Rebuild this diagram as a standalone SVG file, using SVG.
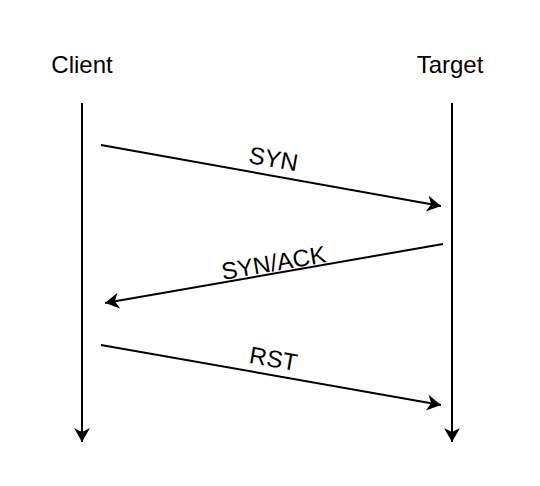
<svg xmlns="http://www.w3.org/2000/svg" width="540" height="486" viewBox="0 0 540 486">
<style>
.lbl{font-family:"Liberation Sans",Arial,sans-serif;font-size:24px;fill:#000;text-anchor:middle}
.ln{stroke:#000;stroke-width:2;fill:none}
</style>
<defs>
<marker id="arr" markerUnits="userSpaceOnUse" orient="auto" markerWidth="20" markerHeight="20" refX="16" refY="10" viewBox="0 0 20 20">
<path d="M16,10 L2,2 L6,10 L2,18 Z" fill="#000"/>
</marker>
</defs>
<rect width="540" height="486" fill="#fff"/>
<g id="client"><text class="lbl" x="82" y="73">Client</text></g>
<g id="target"><text class="lbl" x="450" y="73">Target</text></g>
<g id="connectors">
<line class="ln" x1="82" y1="103" x2="82" y2="442" marker-end="url(#arr)"/>
<line class="ln" x1="452" y1="103" x2="452" y2="442" marker-end="url(#arr)"/>
<line class="ln" x1="101" y1="145" x2="441" y2="206" marker-end="url(#arr)"/>
<line class="ln" x1="443" y1="244" x2="105" y2="303" marker-end="url(#arr)"/>
<line class="ln" x1="101" y1="345" x2="441" y2="405" marker-end="url(#arr)"/>
<text class="lbl" x="272" y="167" transform="rotate(10.2 272 167)">SYN</text>
<text class="lbl" x="275" y="271" transform="rotate(-9.7 275 271)">SYN/ACK</text>
<text class="lbl" x="272" y="367" transform="rotate(10 272 367)">RST</text>
</g>
</svg>
